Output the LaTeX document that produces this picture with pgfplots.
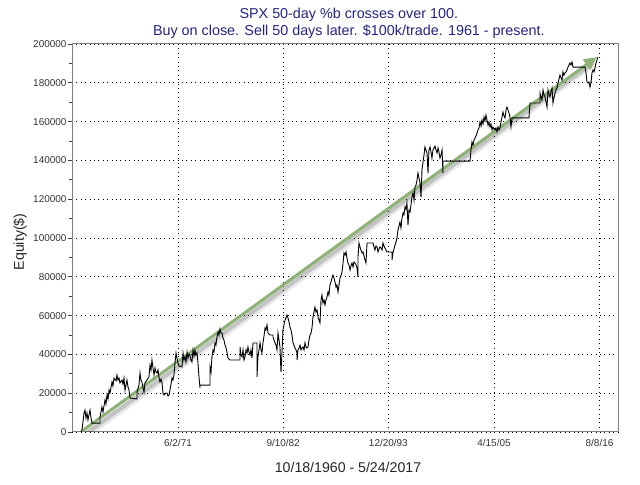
\documentclass[border=0pt]{standalone}
\usepackage{fontspec}
\setmainfont{Liberation Sans}
\usepackage{pgfplots}
\pgfplotsset{compat=1.18}
\usetikzlibrary{arrows.meta}
\definecolor{titleblue}{RGB}{35,35,130}
\definecolor{arrowgreen}{RGB}{143,179,118}
\definecolor{framegray}{RGB}{128,128,128}
\pgfplotstableread{
year equity
1961.02 0
1961.13 1000
1961.35 9800
1961.45 11300
1961.56 7200
1961.67 9800
1961.77 6200
1961.88 8800
1961.99 11300
1962.10 7200
1962.20 4600
1963.06 4600
1963.06 7700
1963.27 12900
1963.38 10300
1963.60 16500
1963.70 14400
1963.81 19100
1963.92 17000
1964.03 21600
1964.13 20100
1964.35 25800
1964.45 23700
1964.56 27800
1964.78 26300
1964.88 29400
1964.99 26800
1965.10 27800
1965.20 25300
1965.42 26800
1965.53 24700
1965.63 27800
1965.74 21600
1965.85 24200
1965.95 26800
1966.06 23200
1966.17 21600
1966.28 17500
1967.03 17000
1967.03 20600
1967.24 24200
1967.35 30400
1967.45 26800
1967.56 25800
1967.67 22700
1967.78 20600
1967.88 25300
1968.10 26800
1968.31 28400
1968.42 34500
1968.53 32000
1968.63 37100
1968.74 33000
1968.85 29400
1968.96 33000
1969.06 30900
1969.17 30400
1969.28 32000
1969.38 28400
1969.49 25800
1969.60 27300
1969.71 25300
1969.81 20100
1969.92 19100
1970.13 20100
1970.24 20100
1970.35 18600
1970.46 19100
1970.56 21600
1970.67 24700
1970.78 27800
1970.88 26800
1970.99 29400
1971.10 35600
1971.21 40700
1971.31 38100
1971.42 35600
1971.53 34000
1971.85 33500
1971.96 40700
1972.06 37100
1972.17 38700
1972.28 36100
1972.39 41200
1972.49 38100
1972.60 40200
1972.71 39700
1972.81 37100
1972.92 36100
1973.03 42300
1973.14 39200
1973.24 42300
1973.35 39700
1973.46 40700
1973.56 35600
1973.67 28400
1973.78 22700
1973.78 24200
1974.85 24200
1974.85 33500
1974.96 30900
1975.06 38700
1975.17 42300
1975.28 41200
1975.39 45900
1975.49 44800
1975.60 49000
1975.71 51500
1975.81 50000
1975.92 53100
1976.03 51000
1976.14 51000
1976.24 48500
1976.35 47400
1976.46 44800
1976.57 43300
1976.67 41200
1976.78 38100
1976.99 37100
1978.07 37100
1978.07 43800
1978.17 39700
1978.28 38700
1978.39 42300
1978.49 37100
1978.60 38700
1978.71 42300
1978.82 40700
1978.92 43800
1979.03 41200
1979.14 39700
1979.24 42300
1979.35 38100
1979.46 45900
1979.89 45900
1979.89 28400
1979.99 38700
1980.10 42300
1980.21 45900
1980.32 42300
1980.42 40700
1980.53 45900
1980.64 49500
1980.75 53600
1980.85 52600
1980.96 55200
1981.07 51000
1981.28 50000
1981.60 50000
1981.60 49000
1981.82 45900
1981.92 44800
1982.03 42300
1982.14 51000
1982.25 47400
1982.35 43800
1982.46 30900
1982.57 41200
1982.67 52600
1982.78 55200
1982.89 57700
1982.99 58800
1983.10 60300
1983.21 58800
1983.32 56700
1983.42 54100
1983.53 52600
1983.64 50000
1983.75 45900
1983.85 44800
1983.96 43300
1984.07 42300
1984.18 40700
1984.18 37100
1984.28 42300
1984.39 43300
1984.50 44800
1984.60 42300
1984.71 43300
1984.82 43800
1984.93 42300
1985.03 45900
1985.14 43800
1985.25 43300
1985.35 43800
1985.46 47400
1985.57 50000
1985.68 51000
1985.78 53600
1985.89 59300
1986.00 61900
1986.10 64400
1986.21 61900
1986.32 62900
1986.43 59300
1986.53 57700
1986.64 56200
1986.75 68000
1986.85 70600
1986.96 66500
1987.07 68000
1987.18 65500
1987.28 68000
1987.39 69600
1987.50 72200
1987.60 70600
1987.71 75800
1987.82 77300
1987.93 79400
1988.03 80900
1988.14 79400
1988.25 77300
1988.36 74700
1988.46 75800
1988.57 72200
1988.68 75800
1988.78 79400
1988.89 80400
1989.00 82500
1989.11 87100
1989.21 92300
1989.32 91200
1989.43 92800
1989.53 89700
1989.64 87100
1989.75 86100
1989.86 83500
1989.96 85600
1990.07 87100
1990.18 85100
1990.28 87600
1990.39 87100
1990.50 86100
1990.61 84500
1990.71 79900
1990.71 90200
1990.82 97400
1990.93 95400
1991.03 93800
1991.14 92300
1991.25 92800
1991.36 90700
1991.46 88700
1991.57 87100
1991.68 97400
1992.32 97400
1992.43 95400
1992.53 93800
1992.64 95900
1992.75 95400
1992.86 92800
1992.96 94300
1993.07 95400
1993.18 94800
1993.29 93800
1993.39 97400
1993.50 95900
1993.61 94800
1993.71 93800
1993.82 92800
1994.36 92800
1994.36 88700
1994.46 92300
1994.68 96400
1994.79 97900
1994.89 100000
1995.00 104100
1995.11 106200
1995.21 108200
1995.32 105200
1995.43 110300
1995.54 112900
1995.64 111900
1995.75 116000
1995.86 114900
1995.96 118000
1996.07 106700
1996.18 114400
1996.29 113400
1996.39 117000
1996.50 121100
1996.61 123200
1996.72 119600
1996.82 126300
1996.93 127300
1997.04 129900
1997.14 133500
1997.25 130900
1997.36 128400
1997.47 121100
1997.57 135100
1997.68 139200
1997.79 142800
1997.89 146900
1998.00 145400
1998.11 143800
1998.22 133500
1998.32 145400
1998.43 146900
1998.54 144300
1998.64 141200
1998.75 145400
1998.86 146400
1998.97 147400
1999.07 145400
1999.18 143800
1999.29 146400
1999.39 144300
1999.50 141200
1999.61 142800
1999.72 145400
1999.82 133500
1999.82 139600
2002.72 139600
2002.82 145400
2002.93 149500
2003.04 147900
2003.15 150500
2003.36 152600
2003.47 154100
2003.57 155700
2003.68 156700
2003.79 159800
2003.90 157700
2004.00 160800
2004.11 158800
2004.22 162400
2004.32 160300
2004.43 163400
2004.54 160800
2004.65 158200
2004.75 159800
2004.86 157200
2004.97 158800
2005.08 155700
2005.18 157200
2005.29 156200
2005.40 155700
2005.50 156700
2005.61 154600
2005.72 157200
2005.83 155700
2005.93 156700
2006.04 159800
2006.15 162400
2006.25 164900
2006.36 162900
2006.47 161900
2006.58 166000
2006.68 167500
2006.79 166000
2006.90 164400
2007.00 162400
2007.11 157200
2007.22 161900
2009.04 161900
2009.15 169600
2010.22 169600
2010.22 174700
2010.33 172700
2010.43 171100
2010.54 176300
2010.65 173700
2010.76 172700
2010.86 170100
2010.97 167500
2011.08 176300
2011.18 174200
2011.29 172700
2011.40 175300
2011.51 177300
2011.61 169600
2011.72 172200
2011.83 174700
2011.93 176300
2012.04 177300
2012.15 179900
2012.26 182000
2012.36 184000
2012.47 182500
2012.58 181400
2012.68 185600
2012.79 184000
2012.90 185100
2013.01 185600
2013.11 186600
2013.22 188100
2013.33 189200
2013.43 190200
2013.54 189200
2013.65 190700
2013.76 188100
2015.04 188100
2015.15 185100
2015.26 180400
2015.36 179900
2015.47 180400
2015.58 177800
2015.69 180400
2015.79 185100
2015.90 186600
2016.01 185600
2016.11 187600
2016.22 190200
2016.33 191800
2016.44 193300
}\equitytable
\begin{document}
\begin{tikzpicture}
\path[use as bounding box] (0,0) rectangle (640bp,485bp);
\begin{axis}[
  at={(72bp,53bp)}, anchor=south west,
  scale only axis, width=546bp, height=388bp,
  xmin=1960.06, xmax=2018.58, ymin=0, ymax=200000,
  xtick={1971.42,1982.69,1993.97,2005.29,2016.60},
  xticklabels={6/2/71,9/10/82,12/20/93,4/15/05,8/8/16},
  ytick={0,20000,40000,60000,80000,100000,120000,140000,160000,180000,200000},
  yticklabels={0,20000,40000,60000,80000,100000,120000,140000,160000,180000,200000},
  minor ytick={10000,30000,50000,70000,90000,110000,130000,150000,170000,190000},
  scaled y ticks=false,
  ytick pos=left, xtick pos=bottom,
  tick align=outside,
  major tick length=4.5bp, minor tick length=3bp,
  every tick/.style={black!75, line width=0.8bp},
  xtick style={draw=none},
  grid=major,
  major grid style={black, line width=0.8bp, dash pattern=on 0.8bp off 3.6bp},
  axis line style={framegray, line width=1bp},
  ticklabel style={font=\fontsize{10}{12}\selectfont, text=black!80},
  xticklabel style={yshift=1bp},
  yticklabel style={xshift=2.5bp},
  xlabel={10/18/1960 - 5/24/2017},
  xlabel style={at={(axis description cs:0.5055,-0.0902)}, anchor=center, font=\fontsize{14.2}{17}\selectfont, text=black!85},
  ylabel={Equity(\$)},
  ylabel style={at={(axis description cs:-0.0952,0.49)}, anchor=center, font=\fontsize{14.2}{17}\selectfont, text=black!85},
  title={SPX 50-day \%b crosses over 100.\\Buy on close. Sell 50 days later. \$100k/trade. 1961 - present.},
  title style={at={(axis description cs:0.507,1.039)}, anchor=center, align=center, font=\fontsize{14.4}{17}\selectfont, text=titleblue},
]
\addplot[black, opacity=0.09, line width=8bp, line cap=round] coordinates {(1961.45,-1800) (2015.60,189000)};
\addplot[black, opacity=0.16, line width=4bp, line cap=round] coordinates {(1961.40,-1500) (2015.70,189500)};
\addplot[arrowgreen, line width=3bp, -{Triangle[length=13bp,width=12bp]}] coordinates {(1961.13,500) (2016.33,193300)};
\addplot[black, line width=0.9bp] table[x=year, y=equity] {\equitytable};
\end{axis}
\end{tikzpicture}
\end{document}
